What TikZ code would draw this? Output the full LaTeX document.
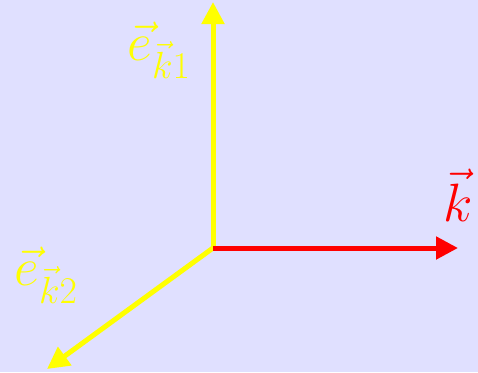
\RequirePackage{fix-cm}
\documentclass[tikz,border=0pt]{standalone}
\usepackage{amsmath,amssymb}
\usepackage{tikz}
\usetikzlibrary{arrows.meta}
\definecolor{bgcol}{RGB}{224,224,255}
\definecolor{veccol}{RGB}{255,255,0}
\definecolor{kcol}{RGB}{255,0,0}
\tikzset{
  vecline/.style={line width=5pt,-{Triangle[length=22pt,width=22pt]}},
  veclabel/.style={inner sep=0pt,font=\fontsize{54}{60}\selectfont}
}

\begin{document}
\begin{tikzpicture}[x=1pt,y=-1pt]
\fill[bgcol] (0,0) rectangle (478,372);
\useasboundingbox (0,0) rectangle (478,372);
\coordinate (o) at (213,248);
\coordinate (e1) at (213,2);
\coordinate (k) at (458,248);
\coordinate (e2) at (47,369);
\draw[vecline,veccol] (o) -- (e1);
\draw[vecline,veccol] (o) -- (e2);
\draw[vecline,kcol] (o) -- (k);
\node[veclabel,text=veccol] (le1) at (159,50) {$\vec{e}_{\vec{k}1}$};
\node[veclabel,text=veccol] (le2) at (46,275) {$\vec{e}_{\vec{k}2}$};
\node[veclabel,text=kcol] (lk) at (458,195) {$\vec{k}$};
\end{tikzpicture}
\end{document}
